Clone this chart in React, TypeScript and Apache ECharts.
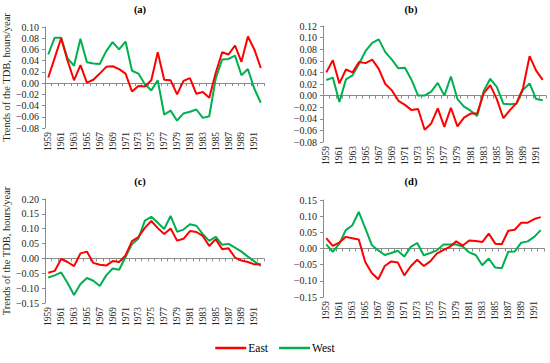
import React, { useEffect, useRef } from "react";
import * as echarts from "echarts";

const years = [
  "1959","1960","1961","1962","1963","1964","1965","1966","1967","1968",
  "1969","1970","1971","1972","1973","1974","1975","1976","1977","1978",
  "1979","1980","1981","1982","1983","1984","1985","1986","1987","1988",
  "1989","1990","1991","1992",
];

const eastA = [0.01,0.045,0.08,0.04,0.005,0.032,0.001,0.006,0.017,0.029,0.03,0.025,0.017,-0.015,-0.005,-0.006,0.005,0.055,0.006,0.005,-0.02,0.004,0.009,-0.019,-0.016,-0.026,0.018,0.055,0.051,0.067,0.038,0.083,0.06,0.027];
const westA = [0.051,0.081,0.081,0.044,0.031,0.079,0.037,0.035,0.034,0.057,0.073,0.06,0.074,0.022,0.017,-0.002,-0.013,0.005,-0.056,-0.049,-0.067,-0.054,-0.051,-0.047,-0.062,-0.059,0.008,0.042,0.043,0.049,0.014,0.025,-0.01,-0.035];

const eastB = [0.04,0.061,0.021,0.045,0.04,0.058,0.056,0.062,0.046,0.02,0.009,-0.009,-0.016,-0.025,-0.023,-0.059,-0.048,-0.022,-0.054,-0.021,-0.053,-0.038,-0.031,-0.031,0.004,0.018,-0.006,-0.039,-0.025,-0.013,0.013,0.068,0.043,0.027];
const westB = [0.027,0.031,-0.011,0.028,0.035,0.055,0.077,0.091,0.097,0.075,0.062,0.047,0.048,0.027,0.0,0.0,0.007,0.022,0.0,0.033,-0.006,-0.019,-0.026,-0.035,0.008,0.029,0.015,-0.014,-0.015,-0.014,0.01,0.021,-0.006,-0.008];

const eastC = [-0.048,-0.042,-0.002,-0.012,-0.026,0.017,0.023,-0.015,-0.021,-0.024,-0.009,-0.012,0.01,0.058,0.072,0.103,0.126,0.102,0.082,0.101,0.06,0.066,0.092,0.089,0.076,0.042,0.065,0.031,0.034,0.003,-0.007,-0.012,-0.02,-0.02];
const westC = [-0.064,-0.057,-0.047,-0.083,-0.123,-0.086,-0.066,-0.075,-0.093,-0.057,-0.034,-0.038,0.005,0.048,0.067,0.127,0.14,0.12,0.099,0.143,0.09,0.097,0.115,0.11,0.082,0.059,0.073,0.046,0.049,0.036,0.023,0.006,-0.01,-0.025];

const eastD = [0.032,0.008,0.018,0.036,0.032,0.028,-0.042,-0.076,-0.095,-0.054,-0.04,-0.043,-0.083,-0.055,-0.035,-0.054,-0.04,-0.016,-0.005,0.005,0.022,0.009,0.025,0.023,0.02,0.046,0.015,0.013,0.055,0.058,0.08,0.08,0.091,0.097];
const westD = [0.013,-0.01,0.014,0.057,0.071,0.113,0.063,0.011,-0.006,-0.02,-0.014,-0.007,-0.025,0.005,0.017,-0.021,-0.014,-0.006,0.012,0.012,0.012,0.006,-0.012,-0.02,-0.052,-0.031,-0.059,-0.061,-0.01,-0.009,0.018,0.022,0.036,0.057];

const panelTitles = ["(a)", "(b)", "(c)", "(d)"];
const yMins = [-0.08, -0.08, -0.15, -0.15];
const yMaxs = [0.1, 0.12, 0.2, 0.15];
const yIntervals = [0.02, 0.02, 0.05, 0.05];
const yAxisName = "Trends of the TDB, hours/year";
const seriesNames = ["East", "West"];

const FONT = "'Liberation Serif', 'DejaVu Serif', serif";
const RED = "#FF0000";
const GREEN = "#00B050";
const AXIS = "#8c8c8c";
const TEXT = "#262626";

export default function App() {
  const ref = useRef<HTMLDivElement>(null);
  useEffect(() => {
    if (!ref.current) return;
    const chart = echarts.init(ref.current, null, { renderer: "svg" });
    const grids = [
      { left: 45, top: 27, width: 219, height: 101 },
      { left: 323, top: 26, width: 223, height: 116 },
      { left: 45, top: 199, width: 219, height: 104 },
      { left: 323, top: 200, width: 221, height: 97 },
    ];
    const data = [
      [eastA, westA],
      [eastB, westB],
      [eastC, westC],
      [eastD, westD],
    ];
    const fmt = (v: number) => {
      if (Math.abs(v) < 1e-9) return "0.00";
      return v.toFixed(2).replace("-", "\u2212");
    };
    const xAxes: any[] = [];
    const yAxes: any[] = [];
    const series: any[] = [];
    grids.forEach((g, i) => {
      xAxes.push({
        type: "category",
        gridIndex: i,
        data: years,
        boundaryGap: true,
        position: "bottom",
        axisLine: { show: false, onZero: false },
        axisTick: { show: false },
        axisLabel: {
          interval: 1,
          rotate: 90,
          fontFamily: FONT,
          fontSize: 9.5,
          color: TEXT,
          margin: 4,
        },
      });
      yAxes.push({
        type: "value",
        gridIndex: i,
        min: yMins[i],
        max: yMaxs[i],
        interval: yIntervals[i],
        name: i % 2 === 0 ? yAxisName : "",
        nameLocation: "middle",
        nameGap: 29,
        nameTextStyle: { fontFamily: FONT, fontSize: 10.5, color: TEXT },
        axisLine: { show: true, lineStyle: { color: AXIS, width: 1 } },
        axisTick: { show: true, length: 3, lineStyle: { color: AXIS } },
        splitLine: { show: false },
        axisLabel: {
          formatter: fmt,
          fontFamily: FONT,
          fontSize: 10,
          color: TEXT,
          margin: 6,
        },
      });
    });
    grids.forEach((g, i) => {
      xAxes.push({
        type: "category",
        gridIndex: i,
        data: years,
        boundaryGap: true,
        position: "top",
        axisLine: { show: true, onZero: true, lineStyle: { color: AXIS, width: 1 } },
        axisTick: { show: true, interval: 0, inside: true, length: 3, lineStyle: { color: AXIS } },
        axisLabel: { show: false },
      });
    });
    data.forEach((pair, i) => {
      pair.forEach((vals, k) => {
        series.push({
          type: "line",
          name: seriesNames[k],
          xAxisIndex: i,
          yAxisIndex: i,
          data: vals,
          symbol: "none",
          showSymbol: false,
          lineStyle: { color: k === 0 ? RED : GREEN, width: 2 },
          itemStyle: { color: k === 0 ? RED : GREEN },
          z: k === 0 ? 3 : 2,
        });
      });
    });
    const titlePos = [
      [140, 9],
      [411, 9],
      [140, 181],
      [411, 181],
    ];
    chart.setOption({
      animation: false,
      grid: grids,
      xAxis: xAxes,
      yAxis: yAxes,
      series,
      legend: {
        data: seriesNames,
        bottom: 4,
        left: "center",
        icon: "rect",
        itemWidth: 31,
        itemHeight: 2.5,
        itemGap: 11,
        textStyle: { fontFamily: FONT, fontSize: 11.5, color: "#000", padding: [0, 0, 0, -3] },
      },
      graphic: panelTitles.map((t, i) => ({
        type: "text",
        x: titlePos[i][0],
        y: titlePos[i][1],
        style: {
          text: t,
          fontFamily: FONT,
          fontSize: 10.5,
          fontWeight: "bold",
          fill: "#000",
          textAlign: "center",
          textVerticalAlign: "middle",
        },
      })),
    });
    return () => chart.dispose();
  }, []);
  return <div ref={ref} style={{ width: 550, height: 363, position: "absolute", left: 0, top: 0 }} />;
}
